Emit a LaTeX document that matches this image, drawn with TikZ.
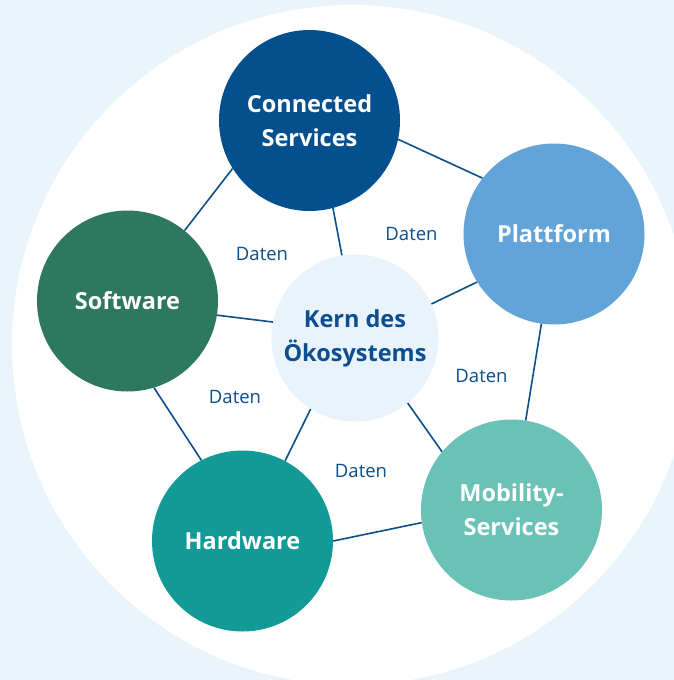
\documentclass[tikz,border=0pt]{standalone}
\usepackage{fontspec}
\setmainfont{Open Sans}
\definecolor{bgblue}{HTML}{EAF4FB}
\definecolor{linkblue}{HTML}{0B4F8C}
\definecolor{connblue}{HTML}{04508F}
\definecolor{platblue}{HTML}{62A4D8}
\definecolor{softgreen}{HTML}{2D785E}
\definecolor{hardteal}{HTML}{129A97}
\definecolor{mobteal}{HTML}{6AC1B6}
\definecolor{kernfill}{HTML}{E8F3FB}
\definecolor{kerntext}{HTML}{0D4F8E}

\begin{document}
\begin{tikzpicture}[x=1pt,y=-1pt,
    planet/.style={circle,minimum size=181pt,inner sep=0pt,align=center,text=white,
      font=\fontsize{23.5}{34}\selectfont\bfseries},
    link/.style={draw=linkblue,line width=1.6pt},
    daten/.style={text=linkblue,inner sep=0pt,font=\fontsize{18.5}{20}\selectfont}]
    \clip (0,0) rectangle (674,680);
    \fill[bgblue] (0,0) rectangle (674,680);
    \fill[white] (352,345) circle[radius=340pt];
    % outer ring
    \node[planet,fill=connblue] (conn) at (309.5,120.5) {Connected\\Services};
    \node[planet,fill=platblue] (plat) at (554,234) {Plattform};
    \node[planet,fill=softgreen] (soft) at (127.5,301) {Software};
    \node[planet,fill=hardteal] (hard) at (242.5,541) {Hardware};
    \node[planet,fill=mobteal] (mob) at (511.5,510) {Mobility-\\Services};
    % core
    \node[planet,fill=kernfill,text=kerntext,minimum size=167pt] (kern) at (355,338) {Kern des\\Ökosystems};
    \draw[link] (conn.348) -- (plat.142);
    \draw[link] (plat.262) -- (mob.81.5);
    \draw[link] (mob.188) -- (hard.0.6);
    \draw[link] (hard.117) -- (soft.287);
    \draw[link] (soft.51) -- (conn.212);
    \draw[link] (kern.99) -- (conn.285.4);
    \draw[link] (kern.24.4) -- (plat.212.5);
    \draw[link] (kern.309.4) -- (mob.140.2);
    \draw[link] (kern.238.5) -- (hard.62.4);
    \draw[link] (kern.169.7) -- (soft.351.2);
    \node[daten] (d1) at (262,253.5) {Daten};
    \node[daten] (d2) at (411.5,233.5) {Daten};
    \node[daten] (d3) at (481.5,375.5) {Daten};
    \node[daten] (d4) at (235,396.5) {Daten};
    \node[daten] (d5) at (361,470.5) {Daten};
\end{tikzpicture}
\end{document}
